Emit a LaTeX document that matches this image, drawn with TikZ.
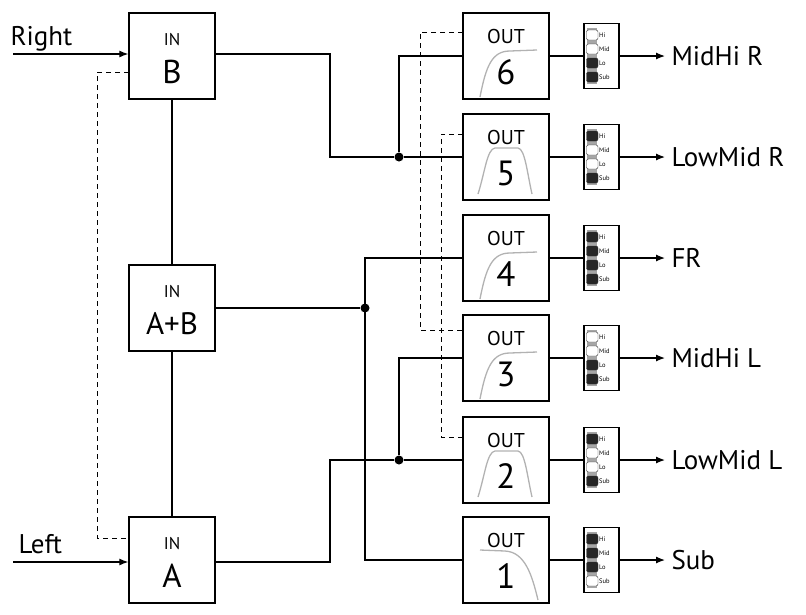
\documentclass[tikz,border=0pt]{standalone}
\usepackage{fontspec}
\setmainfont{PT Sans}
\usetikzlibrary{arrows.meta}
\begin{document}
\begin{tikzpicture}[x=1pt,y=-1pt,
 box/.style={draw,line width=1.3pt,minimum width=86pt,minimum height=86pt,inner sep=0pt},
 ind/.style={draw,line width=1.1pt,minimum width=35pt,minimum height=65pt,inner sep=0pt},
 wire/.style={line width=1.2pt},
 arr/.style={wire,-{Latex[length=9pt,width=7pt]}},
 dsh/.style={line width=0.8pt,dash pattern=on 5pt off 4pt},
 curve/.style={gray!60,line width=1.3pt},
 dot/.style={circle,fill,inner sep=0pt,minimum size=9pt},
 lbl/.style={font=\fontsize{27}{29}\selectfont,anchor=west}]
\useasboundingbox (0,0) rectangle (806,614);
% inputs
\node[box] (B) at (172,56) {};
\node[font=\fontsize{17}{18}\selectfont] at (172,40) {IN};
\node[font=\fontsize{33}{34}\selectfont] at (172,72) {B};
\node[box] (AB) at (172,308) {};
\node[font=\fontsize{17}{18}\selectfont] at (172,292) {IN};
\node[font=\fontsize{31}{32}\selectfont] at (172,324) {A+B};
\node[box] (A) at (172,560) {};
\node[font=\fontsize{17}{18}\selectfont] at (172,544) {IN};
\node[font=\fontsize{33}{34}\selectfont] at (172,576) {A};
\node[lbl,anchor=base west] (rt) at (7,45) {Right};
\node[lbl,anchor=base west] (lf) at (15,553) {Left};
\coordinate (rin) at (13,54);
\coordinate (lin) at (13,562);
\draw[arr] (rin) -- (B.west |- rin);
\draw[arr] (lin) -- (A.west |- lin);
\draw[wire] (B) -- (AB) -- (A);
\draw[dsh] (129,72) -- (97,72) -- (97,538) -- (129,538);
% outputs
\foreach \n/\y in {6/56,5/157,4/258,3/358,2/460,1/560}{
  \node[box] (O\n) at (506,\y) {};
  \node[font=\fontsize{20}{21}\selectfont] at (506,\y-20) {OUT};
  \node[font=\fontsize{35}{36}\selectfont] at (506,\y+16) {\n};
  \node[ind] (I\n) at (601.5,\y) {};
  \fill[gray!70] (587,\y-28) rectangle (597,\y+28);
  \foreach \k/\t in {0/Hi,1/Mid,2/Lo,3/Sub}
    \node[font=\fontsize{6.5}{7}\selectfont,anchor=west,inner sep=0pt] at (599,\y-21+\k*14) {\t};
  \draw[wire] (O\n.east |- 0,\y) -- (I\n.west |- 0,\y);
}
\def\blob#1#2#3{\filldraw[draw=black!80,fill=#3,line width=0.4pt,rounded corners=2pt] (586.5,#1-21+#2*14-5) rectangle (598,#1-21+#2*14+5);}
% indicator states (0 Hi ... 3 Sub)
\blob{56}{0}{white}\blob{56}{1}{white}\blob{56}{2}{black!85}\blob{56}{3}{black!85}
\blob{157}{0}{black!85}\blob{157}{1}{white}\blob{157}{2}{white}\blob{157}{3}{black!85}
\blob{258}{0}{black!85}\blob{258}{1}{black!85}\blob{258}{2}{black!85}\blob{258}{3}{black!85}
\blob{358}{0}{white}\blob{358}{1}{white}\blob{358}{2}{black!85}\blob{358}{3}{black!85}
\blob{460}{0}{black!85}\blob{460}{1}{white}\blob{460}{2}{white}\blob{460}{3}{black!85}
\blob{560}{0}{black!85}\blob{560}{1}{black!85}\blob{560}{2}{black!85}\blob{560}{3}{white}
% outputs arrows and labels
\foreach \n/\y/\t in {6/56/MidHi R,5/157/LowMid R,4/258/FR,3/358/MidHi L,2/460/LowMid L,1/560/Sub}{
  \coordinate (e\n) at (665,\y);
  \draw[arr] (I\n.east |- 0,\y) -- (e\n);
  \node[lbl] at (668,\y) {\t};
}
% filter curves
\foreach \y in {56,258,358}{
  \draw[curve] (480,\y+41) .. controls (486,\y+10) and (492,\y-5) .. (510,\y-5) -- (537,\y-6);
}
\foreach \y in {157,460}{
  \draw[curve] (478,\y+37) .. controls (485,\y+15) and (487,\y-8) .. (495,\y-9) -- (518,\y-9) .. controls (525,\y-8) and (527,\y+15) .. (532,\y+37);
}
\draw[curve] (480,550) -- (505,551) .. controls (525,552) and (532,575) .. (538,600);
% wiring
\node[dot] (d1) at (399,157) {};
\node[dot] (d2) at (365,308) {};
\node[dot] (d3) at (399,460) {};
\draw[wire] (B.east |- 0,54) -- (330,54) -- (330,157) -- (d1) -- (O5.west |- d1);
\draw[wire] (d1) -- (399,56) -- (O6.west |- 0,56);
\draw[wire] (AB.east |- d2) -- (d2);
\draw[wire] (O4.west |- 0,258) -- (365,258) -- (365,560) -- (O1.west |- 0,560);
\draw[wire] (A.east |- 0,562) -- (330,562) -- (330,460) -- (d3) -- (O2.west |- d3);
\draw[wire] (d3) -- (399,358) -- (O3.west |- 0,358);
\draw[dsh] (463,32) -- (420,32) -- (420,330) -- (463,330);
\draw[dsh] (463,134) -- (441,134) -- (441,437) -- (463,437);
\end{tikzpicture}
\end{document}
